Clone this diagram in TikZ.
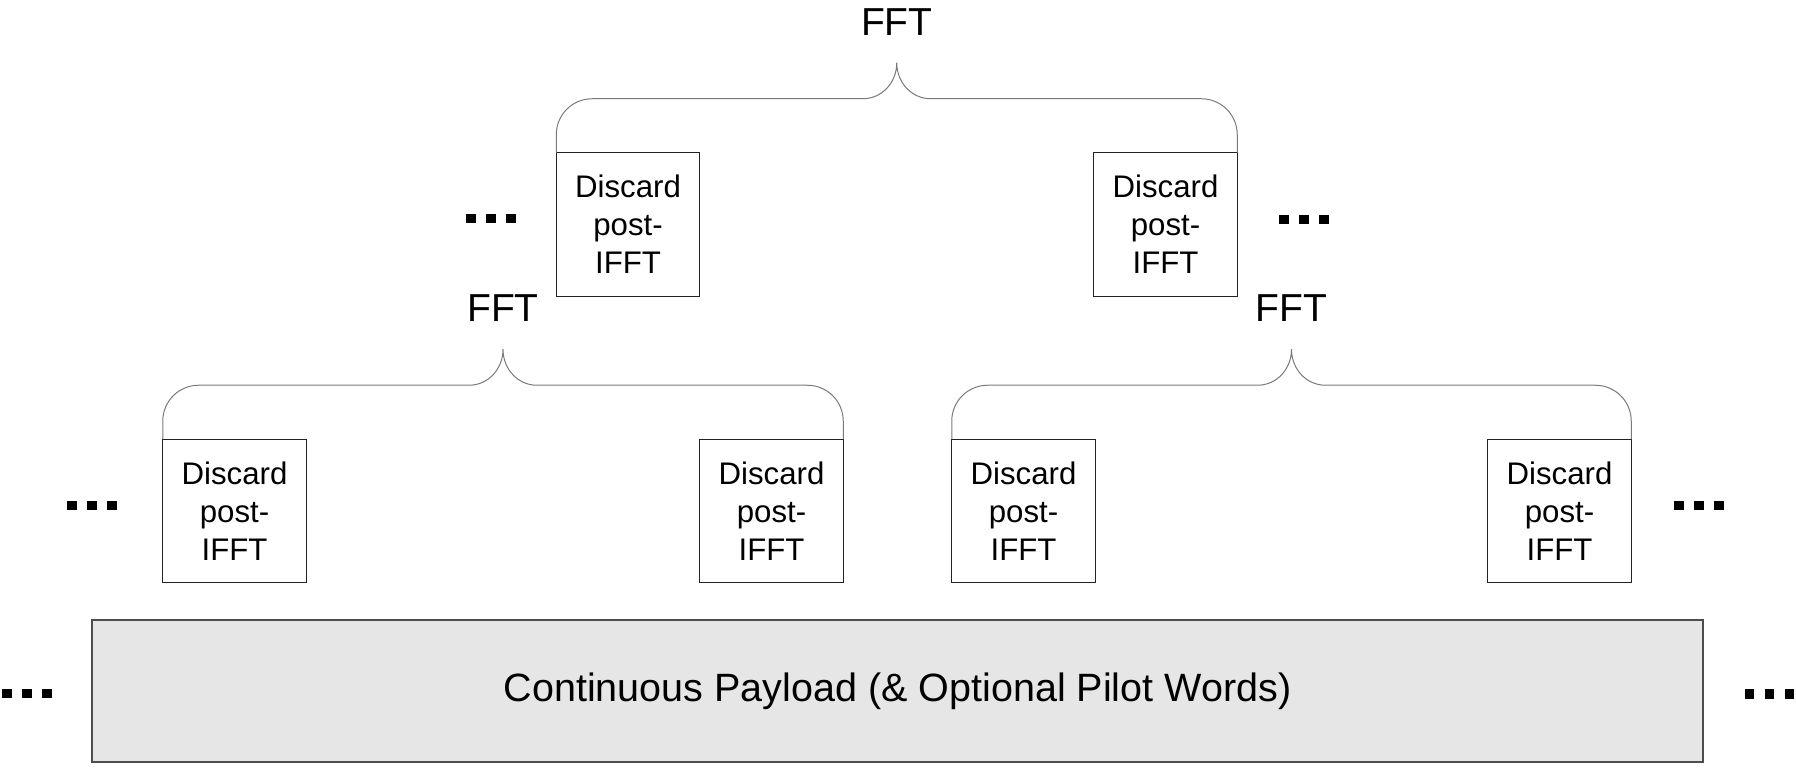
\documentclass[tikz,border=0pt]{standalone}
\usepackage{fontspec}
\setmainfont{Liberation Sans}
\usetikzlibrary{calc}
\definecolor{boxline}{HTML}{222222}
\definecolor{braceline}{HTML}{7A7A7A}
\definecolor{payfill}{HTML}{E6E6E6}
\definecolor{payline}{HTML}{4D4D4D}
\newcommand{\sqdots}[2]{\foreach \k in {0,1,2}{\fill[black] ({#1+20*\k},{-#2+4.75}) rectangle ++(9.5,-9.5);}}
\newcommand{\fftbrace}[3]{%
  \coordinate (#3tip) at ($(#1.north west)!0.5!(#2.north east)+(0,90)$);
  \draw[brace] (#1.north west) -- ++(0,18)
    .. controls +(0,20) and +(-20,0) .. ($(#1.north west)+(36,54)$)
    -- ($(#3tip)+(-34,-36)$)
    .. controls +(19,0) and +(0,-20) .. (#3tip)
    .. controls +(0,-20) and +(-19,0) .. ($(#3tip)+(34,-36)$)
    -- ($(#2.north east)+(-36,54)$)
    .. controls +(20,0) and +(0,20) .. ($(#2.north east)+(0,18)$)
    -- (#2.north east);
  \node[fft] (#3) at ($(#3tip)+(0,27.5)$) {FFT};
}
\begin{document}
\begin{tikzpicture}[x=0.5pt,y=0.5pt,
  discard/.style={draw=boxline, line width=0.65pt, rectangle,
    minimum width=71.75pt, minimum height=71.75pt, inner sep=0pt, outer sep=0pt,
    align=center, font=\fontsize{15.6pt}{18.9pt}\selectfont},
  fft/.style={font=\fontsize{19.5pt}{22pt}\selectfont, inner sep=0pt, anchor=base},
  brace/.style={draw=braceline, line width=0.5pt},
  payload/.style={draw=payline, fill=payfill, line width=0.65pt, rectangle,
    minimum width=805.5pt, minimum height=71pt, inner sep=0pt, outer sep=0pt,
    font=\fontsize{19.75pt}{23pt}\selectfont}
]
\useasboundingbox (0,0) rectangle (1796,-769);

\node[payload] (P) at (897.5,-691) {Continuous Payload (\& Optional Pilot Words)};

\node[discard] (T1) at (628,-224.5) {Discard\\post-\\IFFT};
\node[discard] (T2) at (1165.5,-224.5) {Discard\\post-\\IFFT};
\node[discard] (B1) at (234.5,-511) {Discard\\post-\\IFFT};
\node[discard] (B2) at (771.5,-511) {Discard\\post-\\IFFT};
\node[discard] (B3) at (1023.5,-511) {Discard\\post-\\IFFT};
\node[discard] (B4) at (1559.5,-511) {Discard\\post-\\IFFT};

\fftbrace{T1}{T2}{F0}
\fftbrace{B1}{B2}{F1}
\fftbrace{B3}{B4}{F2}

\sqdots{466}{218.5}
\sqdots{1279}{219.5}
\sqdots{67}{505.5}
\sqdots{1674}{505.5}
\sqdots{2}{693.5}
\sqdots{1744.5}{694}
\end{tikzpicture}
\end{document}
